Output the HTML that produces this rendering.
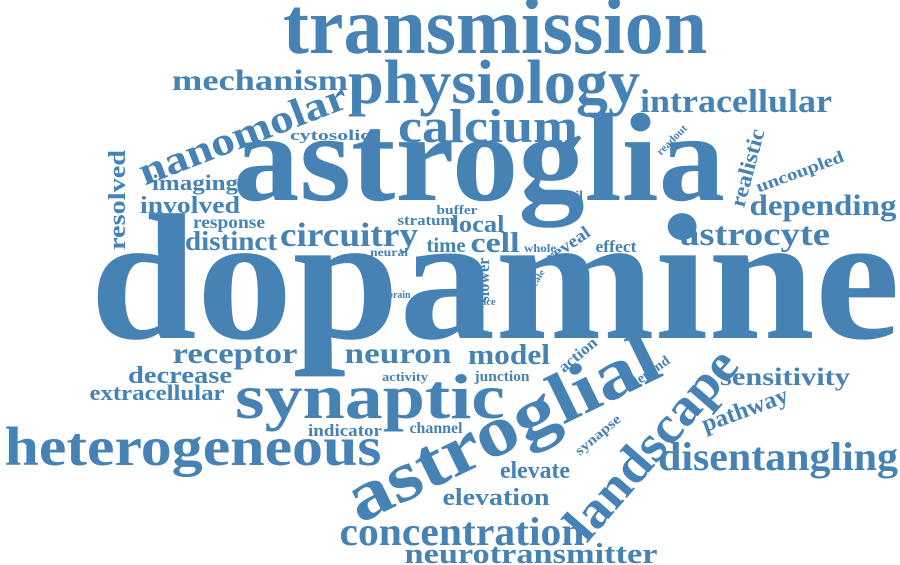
<!DOCTYPE html>
<html><head><meta charset="utf-8"><style>
html,body{margin:0;padding:0;background:#fff;}
svg{display:block;}
text{font-family:"Liberation Serif","Times New Roman",serif;font-weight:bold;fill:#4682b4;}
</style></head><body>
<svg id="cloud" width="900" height="565" viewBox="0 0 900 565" xmlns="http://www.w3.org/2000/svg"></svg>
<script>
// words: text, x (center), y (baseline, or center if rotated), size, width, rotation
const words = [
 ["transmission",495,53,80,424,0],
 ["physiology",494,103,62,292,0],
 ["mechanism",260,90,30,176,0],
 ["intracellular",736,112,33,192,0],
 ["calcium",488,142,48,180,0],
 ["astroglia",479,200,126,492,0],
 ["cytosolic",330,140,15,80,0],
 ["nanomolar",243,135,40,220,-21],
 ["imaging",195,190,22,86,0],
 ["involved",190,213,24,100,0],
 ["resolved",118,200,24,100,-90],
 ["response",229,228,18,72,0],
 ["distinct",231,250,27,92,0],
 ["circuitry",349,246,34,138,0],
 ["stratum",426,225,15,57,0],
 ["buffer",457,214,13,41,0],
 ["local",478,232,24,53,0],
 ["time",446,252,21,39,0],
 ["cell",495,252,29,49,0],
 ["neural",389,256,12,38,0],
 ["whole",540,252,12,32,0],
 ["unveil",565,200,14,36,0],
 ["reveal",568,245,18,50,-35],
 ["effect",616,252,17,41,0],
 ["slower",484,280,17,45,-90],
 ["slice",486,305,10,19,0],
 ["brain",399,298,10,23,0],
 ["scale",537,280,9,22,-60],
 ["readout",672,140,11,38,-45],
 ["realistic",748,168,22,80,-75],
 ["uncoupled",800,172,17,92,-20],
 ["depending",823,215,30,147,0],
 ["astrocyte",755,245,33,150,0],
 ["dopamine",495,338,180,810,0],
 ["receptor",235,363,30,125,0],
 ["neuron",398,363,30,107,0],
 ["model",509,364,29,82,0],
 ["action",578,355,16,45,-40],
 ["depend",650,372,14,45,-35],
 ["decrease",180,383,24,104,0],
 ["activity",405,381,13,46,0],
 ["junction",502,381,15,55,0],
 ["extracellular",157,400,22,135,0],
 ["synaptic",370,418,63,270,0],
 ["sensitivity",785,385,25,130,0],
 ["pathway",745,410,24,90,-20],
 ["astroglial",503,430,72,340,-26],
 ["landscape",652,445,52,235,-49],
 ["synapse",598,435,14,55,-40],
 ["heterogeneous",193,465,55,377,0],
 ["indicator",345,436,17,74,0],
 ["channel",436,433,16,53,0],
 ["elevate",535,478,24,70,0],
 ["disentangling",778,470,40,240,0],
 ["elevation",496,505,24,107,0],
 ["concentration",462,545,40,245,0],
 ["neurotransmitter",531,563,28,253,0]
];
const svg = document.getElementById('cloud');
const NS = 'http://www.w3.org/2000/svg';
for (const w of words) {
  const el = document.createElementNS(NS, 'text');
  el.textContent = w[0];
  el.setAttribute('x', w[1]);
  el.setAttribute('y', w[2]);
  el.setAttribute('font-size', w[3]);
  el.setAttribute('text-anchor', 'middle');
  el.setAttribute('textLength', w[4]);
  el.setAttribute('lengthAdjust', 'spacingAndGlyphs');
  if (w[5] !== 0) {
    el.setAttribute('dy', (w[3] * 0.3).toFixed(1));
    el.setAttribute('transform', 'rotate(' + w[5] + ' ' + w[1] + ' ' + w[2] + ')');
  }
  
  
  svg.appendChild(el);
}
</script>
</body></html>
